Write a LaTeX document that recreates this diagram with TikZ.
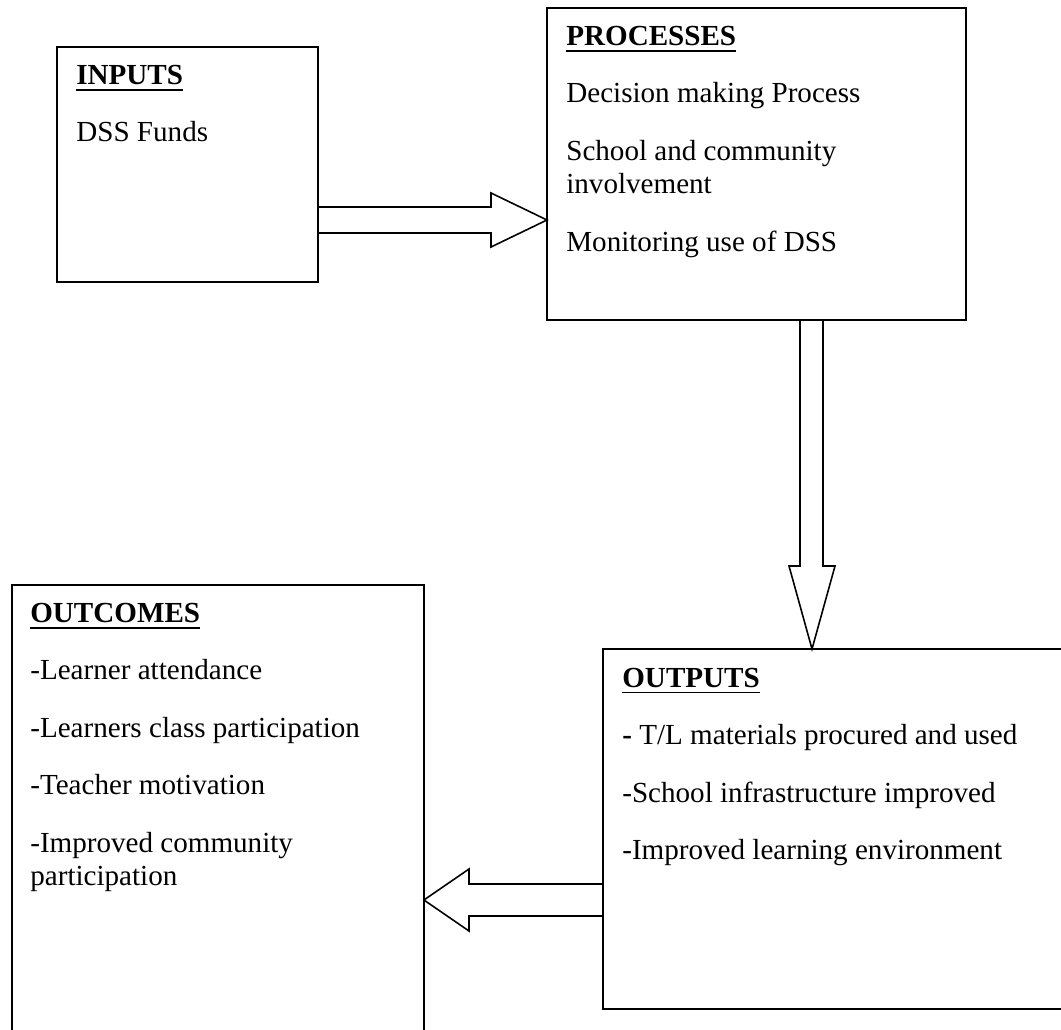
\documentclass[tikz,border=0pt]{standalone}
\usepackage{fontspec}
\setmainfont{Liberation Serif}
\usepackage{tikz}
\usetikzlibrary{positioning}
\newsavebox{\headbox}
\newcommand{\heading}[1]{\sbox{\headbox}{\textbf{#1}}\rlap{\rule[-3.6pt]{\wd\headbox}{1pt}}\usebox{\headbox}}
\newcommand{\itemgap}{13.66pt}
\tikzset{
        box/.style = {draw, rectangle, line width=1.1pt,
            anchor=north west, inner sep=0pt, outer sep=0pt},
        boxtext/.style = {align=left, inner sep=0pt,
            font=\fontsize{16.56}{19.06}\selectfont},
        hollow/.style = {draw, line width=0.9pt, line join=miter},
    }
\begin{document}
\begin{tikzpicture}[x=0.02cm, y=-0.02cm]
		\useasboundingbox (0,0) rectangle (1061,1030);
		% boxes
		\node[box, minimum width=5.22cm, minimum height=4.70cm] (inputs) at (57,47) {};
		\node[box, minimum width=8.38cm, minimum height=6.24cm] (processes) at (547,8) {};
		\node[box, minimum width=9.20cm, minimum height=7.20cm] (outputs) at (603,649) {};
		\node[box, minimum width=8.24cm, minimum height=8.96cm] (outcomes) at (12,585) {};
		% texts
		\node[boxtext, below right=0.355cm and 0.38cm of inputs.north west] (inputstext)
			{\heading{INPUTS}\\[\itemgap] DSS Funds};
		\node[boxtext, below right=0.355cm and 0.38cm of processes.north west] (processestext)
			{\heading{PROCESSES}\\[\itemgap] Decision making Process\\[\itemgap] School and community\\ involvement\\[\itemgap] Monitoring use of DSS};
		\node[boxtext, below right=0.37cm and 0.38cm of outputs.north west] (outputstext)
			{\heading{OUTPUTS}\\[\itemgap] \textbf{-} T/L materials procured and used\\[\itemgap] -School infrastructure improved\\[\itemgap] -Improved learning environment};
		\node[boxtext, below right=0.355cm and 0.36cm of outcomes.north west] (outcomestext)
			{\heading{OUTCOMES}\\[\itemgap] -Learner attendance\\[\itemgap] -Learners class participation\\[\itemgap] -Teacher motivation\\[\itemgap] -Improved community\\ participation};
		% block arrows
		\draw[hollow] (inputs.east |- 0,207) -- (491,207) -- (491,193) -- (processes.west |- 0,220)
			-- (491,247) -- (491,233) -- (inputs.east |- 0,233);
		\draw[hollow] (800,0 |- processes.south) -- (800,566) -- (789,566) -- (812,0 |- outputs.north)
			-- (835,566) -- (823,566) -- (823,0 |- processes.south);
		\draw[hollow] (outputs.west |- 0,884) -- (469,884) -- (469,869) -- (outcomes.east |- 0,900)
			-- (469,931) -- (469,916) -- (outputs.west |- 0,916);
\end{tikzpicture}
\end{document}
